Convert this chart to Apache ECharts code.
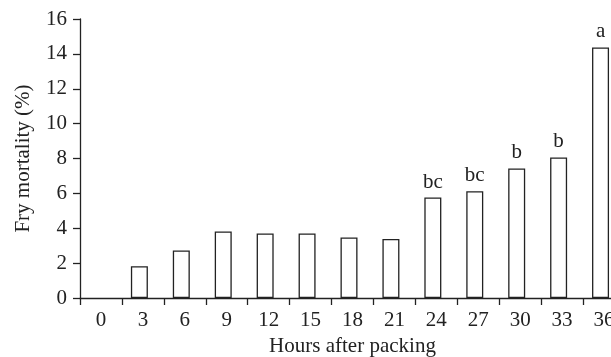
<!DOCTYPE html>
<html>
<head>
<meta charset="utf-8">
<script src="https://cdn.jsdelivr.net/npm/echarts@6/dist/echarts.min.js"></script>
<style>html,body{margin:0;padding:0;background:#fff;overflow:hidden;width:611px;height:357px}#c{width:625px;height:357px}</style>
</head>
<body>
<div id="c"></div>
<script>
const hours = ['0','3','6','9','12','15','18','21','24','27','30','33','36'];
const mortality = [0, 1.82, 2.72, 3.81, 3.70, 3.70, 3.47, 3.39, 5.76, 6.12, 7.43, 8.06, 14.37];
const letters = ['', '', '', '', '', '', '', '', 'bc', 'bc', 'b', 'b', 'a'];
const yTicks = [0, 2, 4, 6, 8, 10, 12, 14, 16];

const font = 'Liberation Serif';
const ink = '#222';
const chart = echarts.init(document.getElementById('c'), null, {renderer: 'canvas'});
chart.setOption({
  animation: false,
  backgroundColor: '#fff',
  grid: {left: 80, top: 19, right: 0, height: 279, containLabel: false, outerBoundsMode: 'none'},
  xAxis: {
    type: 'category',
    data: hours,
    name: 'Hours after packing',
    nameLocation: 'middle',
    nameGap: 37,
    nameTextStyle: {fontFamily: font, fontSize: 21, color: ink},
    axisLine: {lineStyle: {color: ink, width: 1.3}},
    axisTick: {show: true, length: 7, lineStyle: {color: ink, width: 1.3}},
    axisLabel: {fontFamily: font, fontSize: 21, color: ink, margin: 12, interval: 0}
  },
  yAxis: {
    type: 'value',
    min: yTicks[0],
    max: yTicks[yTicks.length - 1],
    interval: 2,
    name: 'Fry mortality (%)',
    nameLocation: 'middle',
    nameGap: 46,
    nameTextStyle: {fontFamily: font, fontSize: 21, color: ink},
    axisLine: {show: true, lineStyle: {color: ink, width: 1.3}},
    axisTick: {show: true, length: 7, lineStyle: {color: ink, width: 1.3}},
    axisLabel: {fontFamily: font, fontSize: 21, color: ink, margin: 13},
    splitLine: {show: false}
  },
  series: [
    {
      type: 'bar',
      data: mortality.map((v, i) => ({
        value: v,
        label: {formatter: letters[i]},
        itemStyle: v === 0 ? {borderWidth: 0} : undefined
      })),
      barWidth: 17,
      barGap: '0%',
      itemStyle: {color: '#fff', borderColor: ink, borderWidth: 1.3},
      label: {show: true, position: 'top', distance: 5, fontFamily: font, fontSize: 21, color: ink}
    },
    {
      type: 'bar',
      data: hours.map(() => '-'),
      barWidth: 7,
      itemStyle: {color: 'transparent'},
      silent: true
    }
  ]
});
</script>
</body>
</html>
